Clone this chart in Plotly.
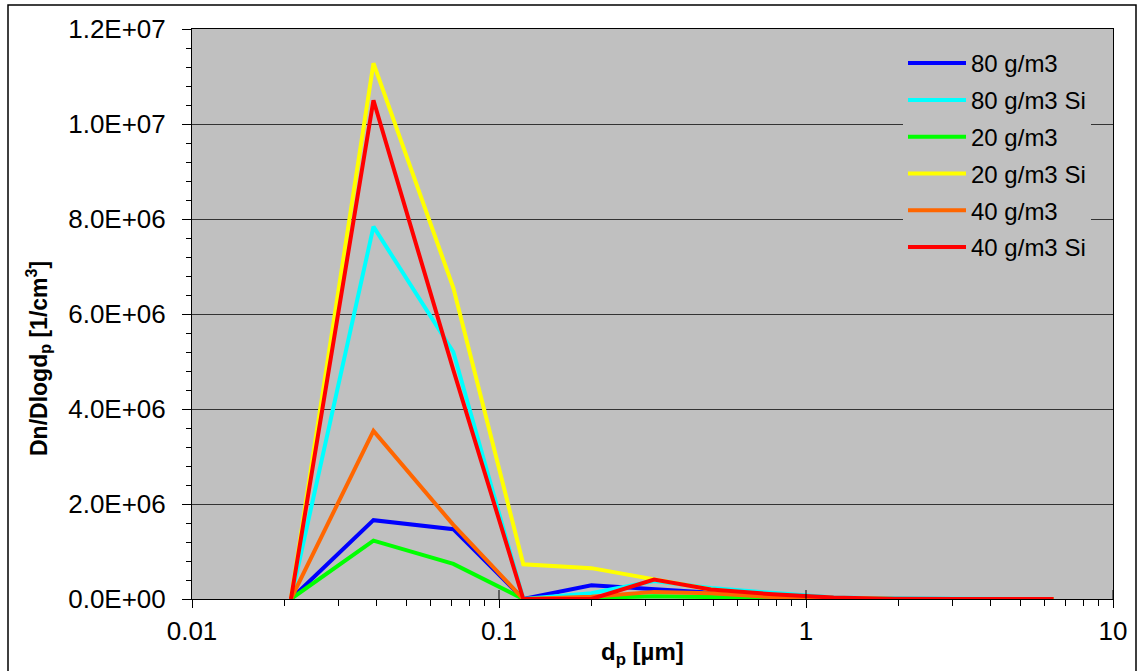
import plotly.graph_objects as go

# Particle diameter (µm)
dp = [0.021, 0.039, 0.071, 0.12, 0.2, 0.32, 0.49, 0.78, 1.23, 1.95, 3.1, 6.4]

series_names = ["80 g/m3", "80 g/m3 Si", "20 g/m3", "20 g/m3 Si", "40 g/m3", "40 g/m3 Si"]
s80    = [0, 1.66e6, 1.47e6, 0, 2.9e5, 2.0e5, 1.2e5, 5e4, 1e4, 0, 0, 0]
s80si  = [0, 7.84e6, 5.2e6, 0, 1.2e5, 3.8e5, 2.3e5, 1.2e5, 3e4, 1e4, 0, 0]
s20    = [0, 1.23e6, 7.4e5, 0, 2e4, 6e4, 4e4, 1e4, 0, 0, 0, 0]
s20si  = [0, 1.128e7, 6.55e6, 7.3e5, 6.5e5, 4.1e5, 2.0e5, 8e4, 2e4, 0, 0, 0]
s40    = [0, 3.54e6, 1.56e6, 0, 5e4, 1.5e5, 1.2e5, 4e4, 1e4, 0, 0, 0]
s40si  = [0, 1.05e7, 4.82e6, 0, 0, 4.1e5, 2.0e5, 1.0e5, 3e4, 0, 0, 0]
series_values = [s80, s80si, s20, s20si, s40, s40si]
series_colors = ["#0000FF", "#00FFFF", "#00FF00", "#FFFF00", "#FF6600", "#FF0000"]

y_tickvals = [0, 2e6, 4e6, 6e6, 8e6, 1e7, 1.2e7]
y_ticktext = ["0.0E+00", "2.0E+06", "4.0E+06", "6.0E+06", "8.0E+06", "1.0E+07", "1.2E+07"]
x_tickvals = [0.01, 0.1, 1, 10]
x_ticktext = ["0.01", "0.1", "1", "10"]

FONT = "Arial, Liberation Sans, sans-serif"

fig = go.Figure()
for i, (name, vals, col) in enumerate(zip(series_names, series_values, series_colors)):
    fig.add_trace(go.Scatter(x=dp, y=vals, mode="lines", name=name,
                             legendgroup=f"g{i}",
                             line=dict(color=col, width=4)))

W, H = 1139, 671
L, R, T, B = 192, 26, 29, 72
pw, ph = W - L - R, H - T - B

def px_x(x):
    return (x - L) / pw

def px_y(y):
    return (H - B - y) / ph

fig.update_layout(
    width=W, height=H,
    margin=dict(l=L, r=R, t=T, b=B),
    paper_bgcolor="white",
    plot_bgcolor="#C0C0C0",
    font=dict(family=FONT, color="black"),
    showlegend=True,
    legend=dict(x=px_x(903), y=px_y(41), xanchor="left", yanchor="top",
                bgcolor="#C0C0C0", borderwidth=0,
                font=dict(family=FONT, size=24, color="black"),
                tracegroupgap=2.6, itemwidth=58),
    xaxis=dict(type="log", range=[-2, 1],
               tickvals=x_tickvals, ticktext=x_ticktext,
               tickfont=dict(size=26, family=FONT),
               ticks="outside", ticklen=8, tickcolor="black", tickwidth=1,
               minor=dict(ticks="outside", ticklen=6, tickcolor="black", dtick="D1", showgrid=False),
               showline=True, linecolor="black", linewidth=1, mirror=True,
               showgrid=False, zeroline=False, ticklabelstandoff=1),
    yaxis=dict(range=[0, 1.2e7],
               tickvals=y_tickvals, ticktext=y_ticktext,
               tickfont=dict(size=26, family=FONT),
               ticks="outside", ticklen=9, tickcolor="black", tickwidth=1,
               minor=dict(ticks="outside", ticklen=5, tickcolor="black", dtick=4e5, tick0=0, showgrid=False),
               showline=True, linecolor="black", linewidth=1, mirror=True,
               showgrid=True, gridcolor="#333333", gridwidth=1.3,
               zeroline=False, ticklabelstandoff=11),
    annotations=[
        dict(text="Dn/Dlogd<sub>p</sub> [1/cm<sup>3</sup>]", textangle=-90,
             xref="paper", yref="paper", x=px_x(38), y=px_y(359),
             showarrow=False, font=dict(family=FONT, size=23, color="black"),
             xanchor="center", yanchor="middle"),
        dict(text="d<sub>p</sub> [µm]",
             xref="paper", yref="paper", x=px_x(642), y=px_y(653),
             showarrow=False, font=dict(family=FONT, size=24, color="black"),
             xanchor="center", yanchor="middle"),
    ],
)
# bold axis titles
for a in fig.layout.annotations:
    a.text = "<b>" + a.text + "</b>"

shapes = [dict(type="rect", xref="paper", yref="paper",
               x0=px_x(8), x1=px_x(1136), y0=px_y(5), y1=px_y(700),
               line=dict(color="black", width=1.5), fillcolor="rgba(0,0,0,0)", layer="above")]
for xv in x_tickvals[1:]:
    shapes.append(dict(type="line", xref="x", yref="paper", x0=xv, x1=xv,
                       y0=0, y1=9 / ph, line=dict(color="black", width=1)))
fig.update_layout(shapes=shapes)

fig.write_html("out.html")
